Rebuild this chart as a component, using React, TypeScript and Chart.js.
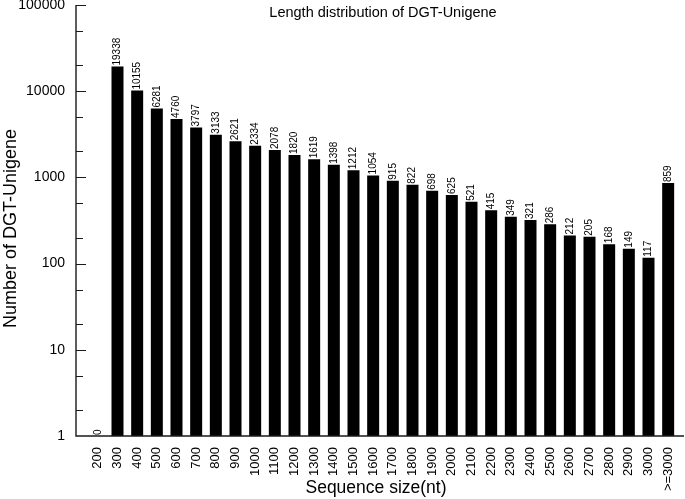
import React, { useEffect, useRef } from "react";
import { Chart, registerables } from "chart.js";

Chart.register(...registerables);

const categories = [
  "200", "300", "400", "500", "600", "700", "800", "900", "1000", "1100",
  "1200", "1300", "1400", "1500", "1600", "1700", "1800", "1900", "2000", "2100",
  "2200", "2300", "2400", "2500", "2600", "2700", "2800", "2900", "3000", ">=3000",
];
const counts = [
  0, 19338, 10155, 6281, 4760, 3797, 3133, 2621, 2334, 2078,
  1820, 1619, 1398, 1212, 1054, 915, 822, 698, 625, 521,
  415, 349, 321, 286, 212, 205, 168, 149, 117, 859,
];
const yTicks = [1, 10, 100, 1000, 10000, 100000];
const yMinorTicks = [2, 5, 20, 50, 200, 500, 2000, 5000, 20000, 50000];
const chartTitle = "Length distribution of DGT-Unigene";
const xTitle = "Sequence size(nt)";
const yTitle = "Number of DGT-Unigene";

const FONT = "'Liberation Sans', Arial, Helvetica, sans-serif";

const customPlugin = {
  id: "customAxes",
  afterDatasetsDraw(chart: any) {
    const { ctx, chartArea, scales } = chart;
    const x = scales.x;
    const y = scales.y;
    const axisX = chartArea.left - 12;
    const axisRight = chartArea.right + 6;
    const bottom = chartArea.bottom;
    ctx.save();
    ctx.strokeStyle = "#1a1a1a";
    ctx.lineWidth = 1.4;
    ctx.beginPath();
    ctx.moveTo(axisX, y.getPixelForValue(yTicks[yTicks.length - 1]));
    ctx.lineTo(axisX, bottom);
    ctx.lineTo(axisRight, bottom);
    ctx.stroke();
    ctx.lineWidth = 1.2;
    ctx.beginPath();
    yTicks.forEach((v) => {
      const py = Math.round(y.getPixelForValue(v)) + 0.5;
      if (v === yTicks[0]) return;
      ctx.moveTo(axisX, py);
      ctx.lineTo(axisX + 10, py);
    });
    yMinorTicks.forEach((v) => {
      const py = Math.round(y.getPixelForValue(v)) + 0.5;
      ctx.moveTo(axisX, py);
      ctx.lineTo(axisX + 7, py);
    });
    ctx.stroke();

    // value labels
    ctx.fillStyle = "#000";
    ctx.font = "10px " + FONT;
    ctx.textAlign = "left";
    ctx.textBaseline = "middle";
    counts.forEach((v, i) => {
      const bx = x.getPixelForValue(i);
      const by = v > 0 ? y.getPixelForValue(v) : bottom;
      ctx.save();
      ctx.translate(bx, by - 1);
      ctx.rotate(-Math.PI / 2);
      ctx.fillText(String(v), 0, 0);
      ctx.restore();
    });

    // main title
    ctx.font = "14.5px " + FONT;
    ctx.textAlign = "center";
    ctx.textBaseline = "middle";
    ctx.fillText(chartTitle, (axisX + axisRight) / 2 + 3, 13);

    // axis titles
    ctx.font = "17.5px " + FONT;
    ctx.fillText(xTitle, (axisX + axisRight) / 2 - 4, 488);
    ctx.save();
    ctx.font = "18px " + FONT;
    ctx.translate(11, (y.getPixelForValue(yTicks[yTicks.length - 1]) + bottom) / 2 + 8);
    ctx.rotate(-Math.PI / 2);
    ctx.fillText(yTitle, 0, 0);
    ctx.restore();
    ctx.restore();
  },
};

export default function App() {
  const ref = useRef<HTMLCanvasElement | null>(null);
  useEffect(() => {
    if (!ref.current) return;
    const chart = new Chart(ref.current, {
      type: "bar",
      data: {
        labels: categories,
        datasets: [
          {
            data: counts.map((v) => (v > 0 ? v : null)),
            backgroundColor: "#000",
            borderColor: "#333",
            borderWidth: 0,
            categoryPercentage: 1,
            barPercentage: 0.61,
          },
        ],
      },
      options: {
        animation: false,
        responsive: false,
        devicePixelRatio: 1,
        layout: { padding: { top: 5, right: 7, left: 0, bottom: 0 } },
        plugins: {
          legend: { display: false },
          tooltip: { enabled: false },
          title: { display: false },
        },
        scales: {
          x: {
            type: "category",
            offset: true,
            grid: { display: false, drawTicks: false },
            border: { display: false },
            ticks: {
              font: { size: 13, family: FONT },
              color: "#000",
              padding: 11,
              minRotation: 90,
              maxRotation: 90,
              autoSkip: false,
            },
            afterFit: (s: any) => {
              s.height = 63;
              s.paddingLeft = 0;
              s.paddingRight = 0;
            },
          },
          y: {
            type: "logarithmic",
            min: 1,
            max: 100000,
            grid: { display: false, drawTicks: false },
            border: { display: false },
            ticks: {
              font: { size: 14, family: FONT },
              color: "#000",
              padding: 23,
              autoSkip: false,
              callback: (v: any) => String(v),
            },
            afterBuildTicks: (s: any) => {
              s.ticks = yTicks.map((v) => ({ value: v }));
            },
            afterFit: (s: any) => {
              s.width = 88;
              s.paddingTop = 0;
              s.paddingBottom = 0;
            },
          },
        },
      },
      plugins: [customPlugin],
    } as any);
    return () => chart.destroy();
  }, []);
  return (
    <div style={{ position: "fixed", left: 0, top: 0, width: 685, height: 499, background: "#fff" }}>
      <canvas ref={ref} width={685} height={499} style={{ width: 685, height: 499 }} />
    </div>
  );
}
